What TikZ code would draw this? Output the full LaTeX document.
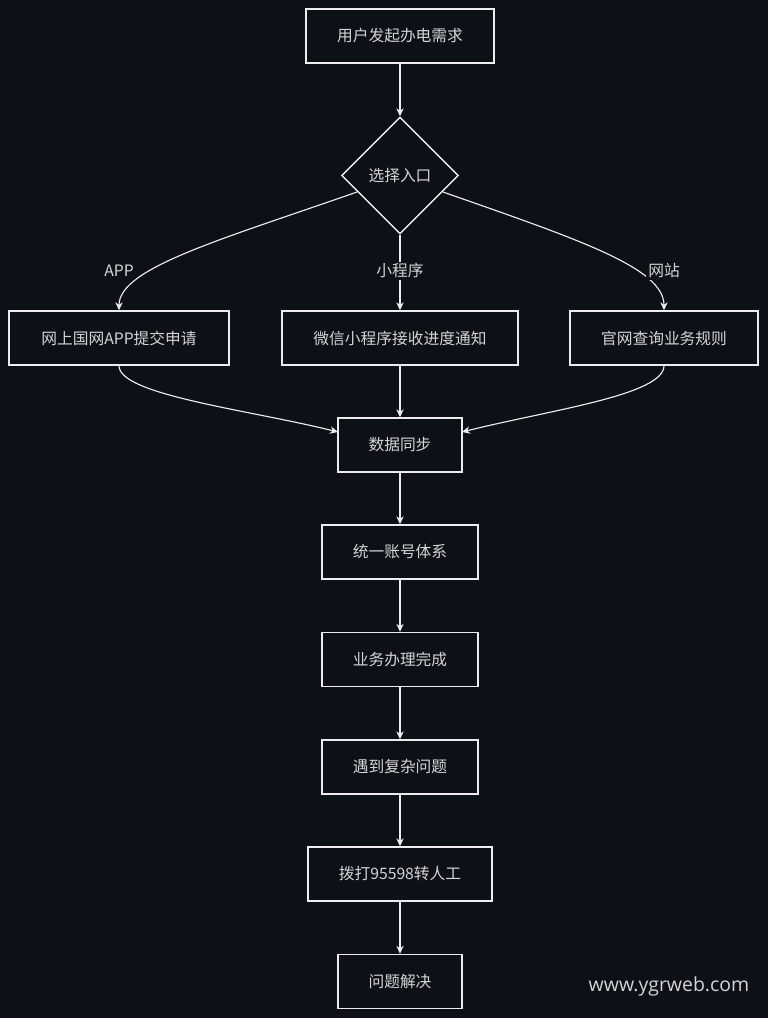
\documentclass[tikz,border=0pt]{standalone}
\usepackage{fontspec}
\setmainfont{Noto Sans CJK SC}
\newfontfamily\wmfont{Open Sans}
\usetikzlibrary{arrows.meta,shapes.geometric}
\definecolor{bgc}{HTML}{0D1017}
\definecolor{txtc}{HTML}{D4D4D4}
\definecolor{linec}{HTML}{EDEDED}
\begin{document}
\begin{tikzpicture}[x=0.75pt,y=-0.75pt,
  stepbox/.style={draw=linec,line width=1.1pt,fill=bgc,text=txtc,inner sep=0pt,minimum height=40.5pt,font=\fontsize{11.8pt}{13.5pt}\selectfont},
  choice/.style={diamond,aspect=1,draw=linec,line width=1.1pt,fill=bgc,text=txtc,inner sep=0pt,minimum size=87.75pt,font=\fontsize{11.8pt}{13.5pt}\selectfont},
  flow/.style={draw=linec,line width=0.85pt,-{Stealth[length=6pt,width=5.5pt]}},
  edgelabel/.style={fill=bgc,text=txtc,inner sep=1.5pt,font=\fontsize{11.8pt}{13.5pt}\selectfont}]
\fill[bgc] (0,0) rectangle (768,1018);
\useasboundingbox (0,0) rectangle (768,1018);

\node[stepbox,minimum width=141pt] (start) at (400,36) {用户发起办电需求};
\node[choice] (entry) at (400,175.5) {选择入口};
\node[stepbox,minimum width=165pt] (app) at (119,338) {网上国网APP提交申请};
\node[stepbox,minimum width=177pt] (mini) at (400,338) {微信小程序接收进度通知};
\node[stepbox,minimum width=141pt] (web) at (664,338) {官网查询业务规则};
\node[stepbox,minimum width=93pt] (sync) at (400,445) {数据同步};
\node[stepbox,minimum width=117pt] (acct) at (400,552) {统一账号体系};
\node[stepbox,minimum width=117pt] (done) at (400,659.5) {业务办理完成};
\node[stepbox,minimum width=117pt] (issue) at (400,767) {遇到复杂问题};
\node[stepbox,minimum width=138pt] (call) at (400,874) {拨打95598转人工};
\node[stepbox,minimum width=93pt] (solved) at (400,981.5) {问题解决};

\coordinate (syncL) at (338,432);
\coordinate (syncR) at (462,432);

\draw[flow] (start.south) -- (entry.north);
\draw[flow] (entry.201) .. controls (220,240) and (119,268) .. (app.north);
\draw[flow] (entry.south) -- (mini.north);
\draw[flow] (entry.-21) .. controls (580,240) and (664,268) .. (web.north);
\node[edgelabel] (lapp) at (119,271) {APP};
\node[edgelabel] (lmini) at (400,271) {小程序};
\node[edgelabel] (lweb) at (664,271) {网站};

\draw[flow] (app.south) .. controls (119,395) and (250,410) .. (syncL);
\draw[flow] (mini.south) -- (sync.north);
\draw[flow] (web.south) .. controls (664,395) and (550,410) .. (syncR);
\draw[flow] (sync.south) -- (acct.north);
\draw[flow] (acct.south) -- (done.north);
\draw[flow] (done.south) -- (issue.north);
\draw[flow] (issue.south) -- (call.north);
\draw[flow] (call.south) -- (solved.north);

\node[text=txtc,inner sep=0pt,font=\wmfont\fontsize{14.6pt}{17pt}\selectfont] (wm) at (669,986) {www.ygrweb.com};
\end{tikzpicture}
\end{document}
